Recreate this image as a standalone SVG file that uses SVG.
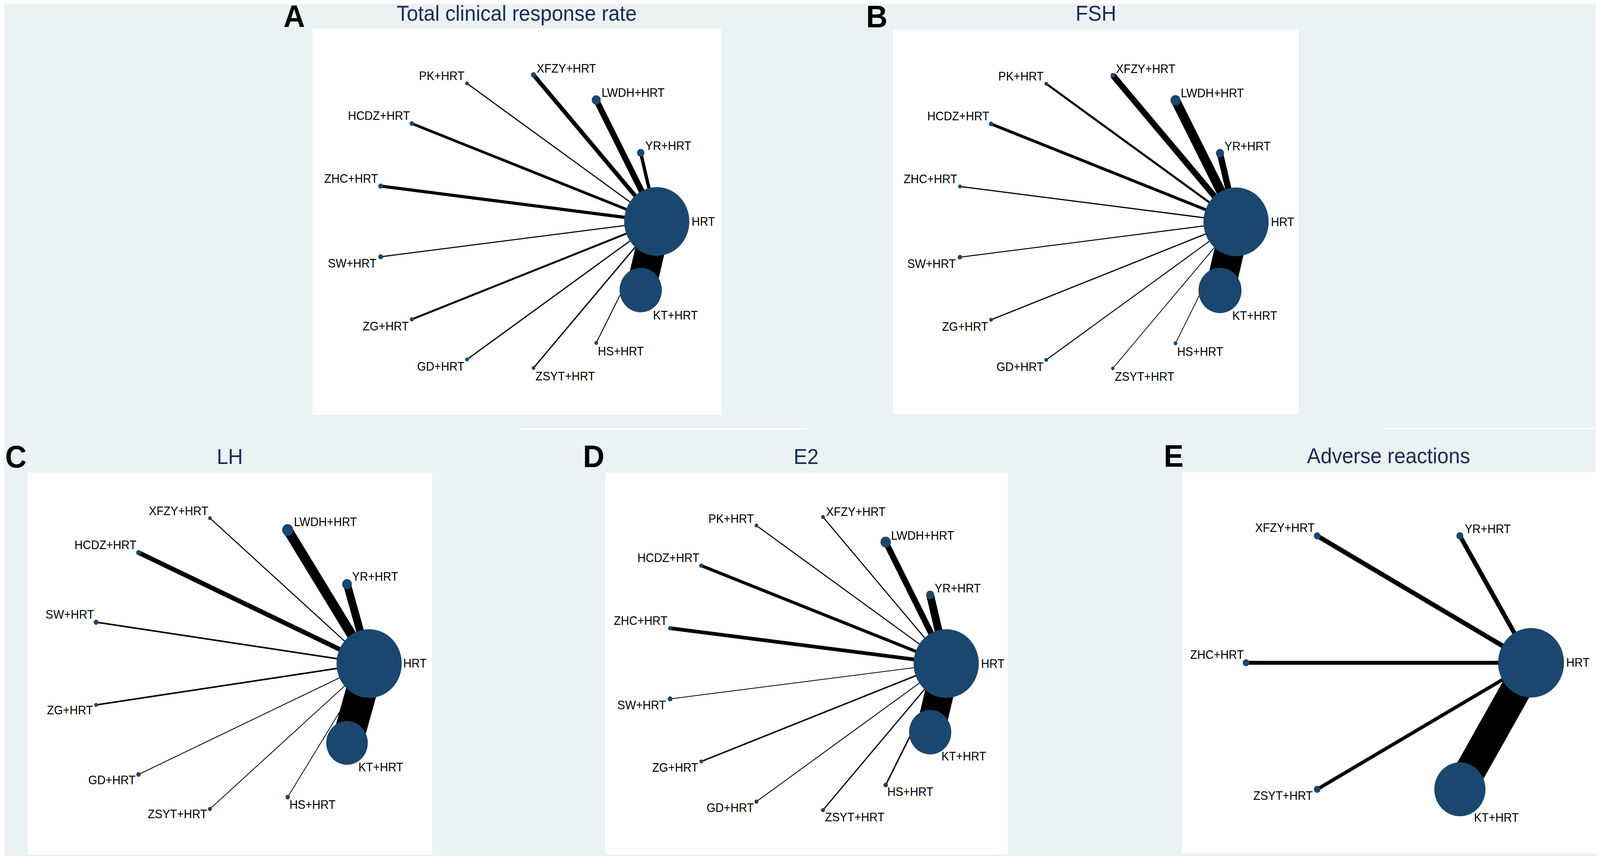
<svg xmlns="http://www.w3.org/2000/svg" width="4317" height="2202" viewBox="0 0 4317 2202">
<style>
.bg{fill:#eaf2f3}
.plot{fill:#ffffff}
.node{fill:#1a476f}
.edges line{stroke:#000000;stroke-linecap:butt}
.lbl{font-family:"Liberation Sans",Arial,sans-serif;font-size:31px;fill:#000000}
.end{text-anchor:end}
.ttl{font-family:"Liberation Sans",Arial,sans-serif;font-size:55px;fill:#1c2b55;text-anchor:middle}
.tag{font-family:"Liberation Sans",Arial,sans-serif;font-weight:bold;font-size:80px;fill:#000000}
</style>
<rect x="0" y="0" width="4317" height="2202" fill="#ffffff"/>
<g id="figure" transform="scale(0.9488,1)">
<rect class="bg" x="11" y="10" width="4295" height="2182"/>
<rect x="1397" y="1097" width="780" height="3" fill="#ffffff"/>
<rect x="3735" y="1096" width="582" height="3" fill="#ffffff"/>

<!-- Panel A -->
<g id="panelA" transform="translate(1394,567)">
<rect class="plot" x="-551" y="-494" width="1102" height="989"/>
<text class="tag" x="-629" y="-498">A</text>
<text class="ttl" x="0" y="-514">Total clinical response rate</text>
<g class="edges" id="edgesA">
<line x1="378" y1="0" x2="334.7" y2="175.7" stroke-width="80"/>
<line x1="378" y1="0" x2="214.7" y2="311.1" stroke-width="2.4"/>
<line x1="378" y1="0" x2="45.5" y2="375.2" stroke-width="3.5"/>
<line x1="378" y1="0" x2="-134" y2="353.4" stroke-width="3.2"/>
<line x1="378" y1="0" x2="-282.9" y2="250.7" stroke-width="5"/>
<line x1="378" y1="0" x2="-367" y2="90.5" stroke-width="2.8"/>
<line x1="378" y1="0" x2="-367" y2="-90.5" stroke-width="8"/>
<line x1="378" y1="0" x2="-282.9" y2="-250.7" stroke-width="7"/>
<line x1="378" y1="0" x2="-134" y2="-353.4" stroke-width="3"/>
<line x1="378" y1="0" x2="45.5" y2="-375.2" stroke-width="11"/>
<line x1="378" y1="0" x2="214.7" y2="-311.1" stroke-width="16"/>
<line x1="378" y1="0" x2="334.7" y2="-175.7" stroke-width="9"/>
</g>
<g id="A-HRT"><circle class="node" cx="378" cy="0" r="88"/><text class="lbl" x="472" y="11">HRT</text></g>
<g id="A-KT"><circle class="node" cx="334.7" cy="175.7" r="57"/><text class="lbl" x="368" y="251">KT+HRT</text></g>
<g id="A-HS"><circle class="node" cx="214.7" cy="311.1" r="5"/><text class="lbl" x="219" y="343">HS+HRT</text></g>
<g id="A-ZSYT"><circle class="node" cx="45.5" cy="375.2" r="5"/><text class="lbl" x="51" y="407">ZSYT+HRT</text></g>
<g id="A-GD"><circle class="node" cx="-134" cy="353.4" r="5"/><text class="lbl end" x="-141" y="382">GD+HRT</text></g>
<g id="A-ZG"><circle class="node" cx="-282.9" cy="250.7" r="5.5"/><text class="lbl end" x="-291" y="279">ZG+HRT</text></g>
<g id="A-SW"><circle class="node" cx="-367" cy="90.5" r="6.5"/><text class="lbl end" x="-378" y="118">SW+HRT</text></g>
<g id="A-ZHC"><circle class="node" cx="-367" cy="-90.5" r="6.5"/><text class="lbl end" x="-374" y="-99">ZHC+HRT</text></g>
<g id="A-HCDZ"><circle class="node" cx="-282.9" cy="-250.7" r="6"/><text class="lbl end" x="-288" y="-260">HCDZ+HRT</text></g>
<g id="A-PK"><circle class="node" cx="-134" cy="-353.4" r="5"/><text class="lbl end" x="-141" y="-362">PK+HRT</text></g>
<g id="A-XFZY"><circle class="node" cx="45.5" cy="-375.2" r="7"/><text class="lbl" x="54" y="-381">XFZY+HRT</text></g>
<g id="A-LWDH"><circle class="node" cx="214.7" cy="-311.1" r="12"/><text class="lbl" x="229" y="-319">LWDH+HRT</text></g>
<g id="A-YR"><circle class="node" cx="334.7" cy="-175.7" r="10"/><text class="lbl" x="347" y="-183">YR+HRT</text></g>
</g>

<!-- Panel B -->
<g id="panelB" transform="translate(2957,568)">
<rect class="plot" x="-547" y="-492" width="1094" height="984"/>
<text class="tag" x="-620" y="-498">B</text>
<text class="ttl" x="0" y="-515">FSH</text>
<g class="edges" id="edgesB">
<line x1="378" y1="0" x2="334.7" y2="175.7" stroke-width="80"/>
<line x1="378" y1="0" x2="214.7" y2="311.1" stroke-width="2"/>
<line x1="378" y1="0" x2="45.5" y2="375.2" stroke-width="2"/>
<line x1="378" y1="0" x2="-134" y2="353.4" stroke-width="2.5"/>
<line x1="378" y1="0" x2="-282.9" y2="250.7" stroke-width="3"/>
<line x1="378" y1="0" x2="-367" y2="90.5" stroke-width="2.5"/>
<line x1="378" y1="0" x2="-367" y2="-90.5" stroke-width="3"/>
<line x1="378" y1="0" x2="-282.9" y2="-250.7" stroke-width="7.5"/>
<line x1="378" y1="0" x2="-134" y2="-353.4" stroke-width="5.5"/>
<line x1="378" y1="0" x2="45.5" y2="-375.2" stroke-width="16"/>
<line x1="378" y1="0" x2="214.7" y2="-311.1" stroke-width="25"/>
<line x1="378" y1="0" x2="334.7" y2="-175.7" stroke-width="17"/>
</g>
<g id="B-HRT"><circle class="node" cx="378" cy="0" r="88"/><text class="lbl" x="472" y="11">HRT</text></g>
<g id="B-KT"><circle class="node" cx="334.7" cy="175.7" r="58"/><text class="lbl" x="368" y="251">KT+HRT</text></g>
<g id="B-HS"><circle class="node" cx="214.7" cy="311.1" r="5"/><text class="lbl" x="219" y="343">HS+HRT</text></g>
<g id="B-ZSYT"><circle class="node" cx="45.5" cy="375.2" r="4.5"/><text class="lbl" x="51" y="407">ZSYT+HRT</text></g>
<g id="B-GD"><circle class="node" cx="-134" cy="353.4" r="5"/><text class="lbl end" x="-141" y="382">GD+HRT</text></g>
<g id="B-ZG"><circle class="node" cx="-282.9" cy="250.7" r="5"/><text class="lbl end" x="-291" y="279">ZG+HRT</text></g>
<g id="B-SW"><circle class="node" cx="-367" cy="90.5" r="6"/><text class="lbl end" x="-378" y="118">SW+HRT</text></g>
<g id="B-ZHC"><circle class="node" cx="-367" cy="-90.5" r="5"/><text class="lbl end" x="-374" y="-99">ZHC+HRT</text></g>
<g id="B-HCDZ"><circle class="node" cx="-282.9" cy="-250.7" r="6"/><text class="lbl end" x="-288" y="-260">HCDZ+HRT</text></g>
<g id="B-PK"><circle class="node" cx="-134" cy="-353.4" r="5"/><text class="lbl end" x="-141" y="-362">PK+HRT</text></g>
<g id="B-XFZY"><circle class="node" cx="45.5" cy="-375.2" r="6"/><text class="lbl" x="54" y="-381">XFZY+HRT</text></g>
<g id="B-LWDH"><circle class="node" cx="214.7" cy="-311.1" r="13.5"/><text class="lbl" x="229" y="-319">LWDH+HRT</text></g>
<g id="B-YR"><circle class="node" cx="334.7" cy="-175.7" r="11"/><text class="lbl" x="347" y="-183">YR+HRT</text></g>
</g>

<!-- Panel C -->
<g id="panelC" transform="translate(620,1699)">
<rect class="plot" x="-545" y="-489" width="1091" height="979"/>
<text class="tag" x="-606" y="-502">C</text>
<text class="ttl" x="0" y="-511">LH</text>
<g class="edges" id="edgesC">
<line x1="376" y1="0" x2="316.3" y2="203.3" stroke-width="84"/>
<line x1="376" y1="0" x2="156.2" y2="342" stroke-width="2"/>
<line x1="376" y1="0" x2="-53.5" y2="372.2" stroke-width="2"/>
<line x1="376" y1="0" x2="-246.2" y2="284.1" stroke-width="2.2"/>
<line x1="376" y1="0" x2="-360.8" y2="105.9" stroke-width="4"/>
<line x1="376" y1="0" x2="-360.8" y2="-105.9" stroke-width="4"/>
<line x1="376" y1="0" x2="-246.2" y2="-284.1" stroke-width="12"/>
<line x1="376" y1="0" x2="-53.5" y2="-372.2" stroke-width="2.8"/>
<line x1="376" y1="0" x2="156.2" y2="-342" stroke-width="26"/>
<line x1="376" y1="0" x2="316.3" y2="-203.3" stroke-width="21"/>
</g>
<g id="C-HRT"><circle class="node" cx="376" cy="0" r="88"/><text class="lbl" x="468" y="10">HRT</text></g>
<g id="C-KT"><circle class="node" cx="316.3" cy="203.3" r="56"/><text class="lbl" x="347" y="276">KT+HRT</text></g>
<g id="C-HS"><circle class="node" cx="156.2" cy="342" r="6"/><text class="lbl" x="161" y="372">HS+HRT</text></g>
<g id="C-ZSYT"><circle class="node" cx="-53.5" cy="372.2" r="5.5"/><text class="lbl end" x="-61" y="396">ZSYT+HRT</text></g>
<g id="C-GD"><circle class="node" cx="-246.2" cy="284.1" r="6"/><text class="lbl end" x="-254" y="309">GD+HRT</text></g>
<g id="C-ZG"><circle class="node" cx="-360.8" cy="105.9" r="5"/><text class="lbl end" x="-369" y="130">ZG+HRT</text></g>
<g id="C-SW"><circle class="node" cx="-360.8" cy="-105.9" r="6.5"/><text class="lbl end" x="-366" y="-115">SW+HRT</text></g>
<g id="C-HCDZ"><circle class="node" cx="-246.2" cy="-284.1" r="6.5"/><text class="lbl end" x="-252" y="-293">HCDZ+HRT</text></g>
<g id="C-XFZY"><circle class="node" cx="-53.5" cy="-372.2" r="5"/><text class="lbl end" x="-58" y="-380">XFZY+HRT</text></g>
<g id="C-LWDH"><circle class="node" cx="156.2" cy="-342" r="15"/><text class="lbl" x="173" y="-352">LWDH+HRT</text></g>
<g id="C-YR"><circle class="node" cx="316.3" cy="-203.3" r="13"/><text class="lbl" x="330" y="-212">YR+HRT</text></g>
</g>

<!-- Panel D -->
<g id="panelD" transform="translate(2175,1699)">
<rect class="plot" x="-542" y="-489" width="1086" height="978"/>
<text class="tag" x="-602" y="-503">D</text>
<text class="ttl" x="0" y="-511">E2</text>
<g class="edges" id="edgesD">
<line x1="378" y1="0" x2="334.7" y2="175.7" stroke-width="78"/>
<line x1="378" y1="0" x2="214.7" y2="311.1" stroke-width="3.8"/>
<line x1="378" y1="0" x2="45.5" y2="375.2" stroke-width="3.2"/>
<line x1="378" y1="0" x2="-134" y2="353.4" stroke-width="2.2"/>
<line x1="378" y1="0" x2="-282.9" y2="250.7" stroke-width="3.6"/>
<line x1="378" y1="0" x2="-367" y2="90.5" stroke-width="2"/>
<line x1="378" y1="0" x2="-367" y2="-90.5" stroke-width="9.5"/>
<line x1="378" y1="0" x2="-282.9" y2="-250.7" stroke-width="8"/>
<line x1="378" y1="0" x2="-134" y2="-353.4" stroke-width="2.8"/>
<line x1="378" y1="0" x2="45.5" y2="-375.2" stroke-width="2.8"/>
<line x1="378" y1="0" x2="214.7" y2="-311.1" stroke-width="16"/>
<line x1="378" y1="0" x2="334.7" y2="-175.7" stroke-width="21"/>
</g>
<g id="D-HRT"><circle class="node" cx="378" cy="0" r="88"/><text class="lbl" x="472" y="11">HRT</text></g>
<g id="D-KT"><circle class="node" cx="334.7" cy="175.7" r="57"/><text class="lbl" x="365" y="248">KT+HRT</text></g>
<g id="D-HS"><circle class="node" cx="214.7" cy="311.1" r="6"/><text class="lbl" x="219" y="339">HS+HRT</text></g>
<g id="D-ZSYT"><circle class="node" cx="45.5" cy="375.2" r="5.5"/><text class="lbl" x="51" y="404">ZSYT+HRT</text></g>
<g id="D-GD"><circle class="node" cx="-134" cy="353.4" r="5.5"/><text class="lbl end" x="-141" y="380">GD+HRT</text></g>
<g id="D-ZG"><circle class="node" cx="-282.9" cy="250.7" r="5"/><text class="lbl end" x="-291" y="277">ZG+HRT</text></g>
<g id="D-SW"><circle class="node" cx="-367" cy="90.5" r="6.5"/><text class="lbl end" x="-378" y="117">SW+HRT</text></g>
<g id="D-ZHC"><circle class="node" cx="-367" cy="-90.5" r="5.5"/><text class="lbl end" x="-374" y="-99">ZHC+HRT</text></g>
<g id="D-HCDZ"><circle class="node" cx="-282.9" cy="-250.7" r="5.5"/><text class="lbl end" x="-288" y="-260">HCDZ+HRT</text></g>
<g id="D-PK"><circle class="node" cx="-134" cy="-353.4" r="5"/><text class="lbl end" x="-141" y="-360">PK+HRT</text></g>
<g id="D-XFZY"><circle class="node" cx="45.5" cy="-375.2" r="5"/><text class="lbl" x="54" y="-378">XFZY+HRT</text></g>
<g id="D-LWDH"><circle class="node" cx="214.7" cy="-311.1" r="14"/><text class="lbl" x="229" y="-317">LWDH+HRT</text></g>
<g id="D-YR"><circle class="node" cx="334.7" cy="-175.7" r="11"/><text class="lbl" x="347" y="-182">YR+HRT</text></g>
</g>

<!-- Panel E -->
<g id="panelE" transform="translate(3746.5,1697)">
<rect class="plot" x="-557.5" y="-488" width="1118" height="976"/>
<text class="tag" x="-606.5" y="-502">E</text>
<text class="ttl" x="0" y="-511">Adverse reactions</text>
<g class="edges" id="edgesE">
<line x1="384.5" y1="0" x2="192.5" y2="324" stroke-width="82"/>
<line x1="384.5" y1="0" x2="-192.5" y2="324" stroke-width="9"/>
<line x1="384.5" y1="0" x2="-384.5" y2="0" stroke-width="10"/>
<line x1="384.5" y1="0" x2="-192.5" y2="-325" stroke-width="12"/>
<line x1="384.5" y1="0" x2="192.5" y2="-325" stroke-width="12"/>
</g>
<g id="E-HRT"><circle class="node" cx="384.5" cy="0" r="89"/><text class="lbl" x="479.5" y="10">HRT</text></g>
<g id="E-KT"><circle class="node" cx="192.5" cy="324" r="69"/><text class="lbl" x="230.5" y="407">KT+HRT</text></g>
<g id="E-ZSYT"><circle class="node" cx="-192.5" cy="324" r="9"/><text class="lbl end" x="-204.5" y="351">ZSYT+HRT</text></g>
<g id="E-ZHC"><circle class="node" cx="-384.5" cy="0" r="9"/><text class="lbl end" x="-390.5" y="-10">ZHC+HRT</text></g>
<g id="E-XFZY"><circle class="node" cx="-192.5" cy="-325" r="9"/><text class="lbl end" x="-199.5" y="-335">XFZY+HRT</text></g>
<g id="E-YR"><circle class="node" cx="192.5" cy="-325" r="9.5"/><text class="lbl" x="205.5" y="-332">YR+HRT</text></g>
</g>
</g>
</svg>
